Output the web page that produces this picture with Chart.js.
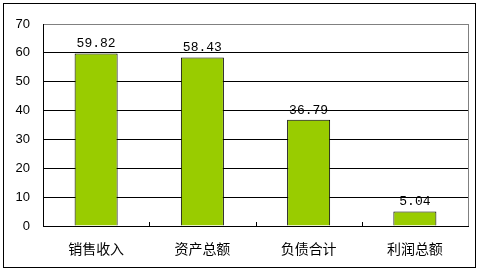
<!DOCTYPE html>
<html>
<head>
<meta charset="utf-8">
<script src="https://cdn.jsdelivr.net/npm/chart.js@4.4.1/dist/chart.umd.min.js"></script>
<style>
  html, body { margin: 0; padding: 0; background: #fff; }
  #wrap { width: 480px; height: 273px; position: relative; }
</style>
</head>
<body>
<div id="wrap"><canvas id="myChart" width="480" height="273"></canvas></div>
<script>
// categories and values
const categories = ['销售收入', '资产总额', '负债合计', '利润总额']
const values = [59.82, 58.43, 36.79, 5.04]
const yMax = 70
const yStep = 10

// draws the outer frame, the grey plot border, small ticks between bars and the value labels
const extras = {
  id: 'extras',
  beforeDraw(chart) {
    const c = chart.ctx
    c.save()
    c.fillStyle = '#fff'
    c.fillRect(0, 0, chart.width, chart.height)
    c.restore()
  },
  afterDraw(chart) {
    const c = chart.ctx
    const area = chart.chartArea
    const x = chart.scales.x
    c.save()
    // outer frame
    c.strokeStyle = '#000'
    c.lineWidth = 1
    c.strokeRect(3.5, 3.5, 472, 264)
    // grey right border of plot area
    c.strokeStyle = '#808080'
    c.beginPath()
    c.moveTo(Math.round(area.right) + 0.5, area.top)
    c.lineTo(Math.round(area.right) + 0.5, area.bottom)
    c.stroke()
    // small ticks between categories, pointing up
    c.strokeStyle = '#000'
    c.beginPath()
    for (let i = 0; i < categories.length - 1; i++) {
      const px = Math.round((x.getPixelForValue(i) + x.getPixelForValue(i + 1)) / 2) + 0.5
      c.moveTo(px, area.bottom)
      c.lineTo(px, area.bottom - 4)
    }
    c.stroke()
    // value labels
    c.fillStyle = '#000'
    c.font = '13px "Liberation Mono", monospace'
    c.textAlign = 'center'
    c.textBaseline = 'alphabetic'
    const meta = chart.getDatasetMeta(0)
    meta.data.forEach((bar, i) => {
      c.fillText(values[i].toFixed(2), bar.x, bar.y - 6)
    })
    c.restore()
  }
}

const ctx = document.getElementById('myChart').getContext('2d')
const chart = new Chart(ctx, {
  type: 'bar',
  data: {
    labels: categories,
    datasets: [{
      data: values,
      backgroundColor: '#99CC00',
      borderColor: '#000',
      borderWidth: 1,
      categoryPercentage: 1,
      barPercentage: 0.405
    }]
  },
  options: {
    responsive: false,
    animation: false,
    devicePixelRatio: 1,
    layout: { padding: { left: 0, top: 24, right: 12, bottom: 0 } },
    plugins: {
      legend: { display: false },
      tooltip: { enabled: false }
    },
    scales: {
      x: {
        grid: { display: false, drawTicks: false },
        border: { color: '#000', width: 1 },
        ticks: {
          color: '#000',
          padding: 14,
          font: { family: '"Noto Sans CJK SC"', size: 14 }
        },
        afterFit(scale) { scale.height = 47 }
      },
      y: {
        min: 0,
        max: yMax,
        grid: {
          drawTicks: false,
          color: (c) => (c.tick.value === yMax ? '#808080' : '#000')
        },
        border: { color: '#000', width: 1 },
        ticks: {
          stepSize: yStep,
          color: '#000',
          padding: 13,
          font: { family: '"Liberation Sans"', size: 13 }
        },
        afterFit(scale) { scale.width = 43 }
      }
    }
  },
  plugins: [extras]
})
</script>
</body>
</html>
